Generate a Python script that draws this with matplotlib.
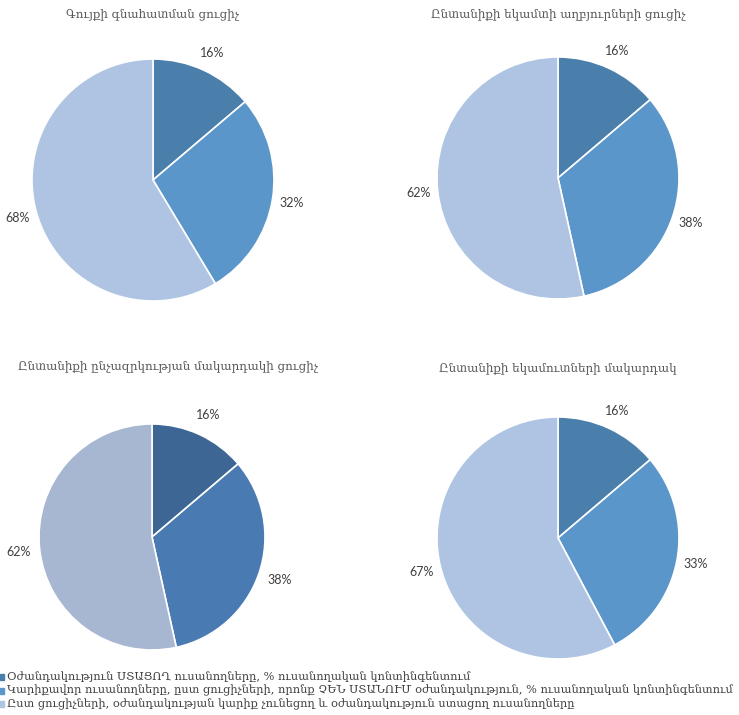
import matplotlib
matplotlib.use("Agg")
import matplotlib.pyplot as plt
from matplotlib.patches import Rectangle

titles = [
    "Գույքի գնահատման ցուցիչ",
    "Ընտանիքի եկամտի աղբյուրների ցուցիչ",
    "Ընտանիքի ընչազրկության մակարդակի ցուցիչ",
    "Ընտանիքի եկամուտների մակարդակ",
]
received = [16, 16, 16, 16]
needy_not_received = [32, 38, 38, 33]
no_need = [68, 62, 62, 67]

legend_labels = [
    "Օժանդակություն ՍՏԱՑՈՂ ուսանողները, % ուսանողական կոնտինգենտում",
    "Կարիքավոր ուսանողները, ըստ ցուցիչների, որոնք ՉԵՆ ՍՏԱՆՈՒՄ օժանդակություն, % ուսանողական կոնտինգենտում",
    "Ըստ ցուցիչների, օժանդակության կարիք չունեցող և օժանդակություն ստացող ուսանողները",
]

colors_std = ["#4A7EAB", "#5B96CB", "#AEC4E2"]
colors_alt = ["#3D6695", "#4A7AB2", "#A7B6D1"]
palettes = [colors_std, colors_std, colors_alt, colors_std]

W, H = 739, 715
fig = plt.figure(figsize=(W / 100, H / 100), dpi=100)

# pixel centers / radii
centers = [(153, 180, 121), (558, 178, 121), (152, 537, 113), (558, 538, 121)]
title_pos = [(153, 14), (558, 14), (168, 366), (558, 368)]
label_dist = [1.16, 1.16, 1.19, 1.16]

for i in range(4):
    cx, cy, r = centers[i]
    ax = fig.add_axes([(cx - r) / W, 1 - (cy + r) / H, 2 * r / W, 2 * r / H])
    vals = [received[i], needy_not_received[i], no_need[i]]
    labels = [f"{v}%" for v in vals]
    wedges, texts = ax.pie(
        vals, labels=labels, colors=palettes[i], startangle=90, counterclock=False,
        labeldistance=label_dist[i], wedgeprops=dict(edgecolor="white", linewidth=1.2),
        textprops=dict(fontsize=9, color="#404040", family=["Lato", "DejaVu Sans"]),
    )
    for t in texts:
        t.set_ha("center")
        t.set_va("center")
    ax.set_xlim(-1, 1)
    ax.set_ylim(-1, 1)
    ax.set_aspect("equal")
    tx, ty = title_pos[i]
    fig.text(tx / W, 1 - ty / H, titles[i], ha="center", va="center",
             fontsize=8.6, color="#595959", family=["DejaVu Serif"])

leg_colors = ["#4A7EAB", "#5B96CB", "#AEC4E2"]
for j, lab in enumerate(legend_labels):
    y = 677 + j * 13.5
    fig.patches.append(Rectangle((0 / W, 1 - (y + 3) / H), 4 / W, 6 / H,
                                 transform=fig.transFigure, color=leg_colors[j]))
    fig.text(7 / W, 1 - y / H, lab, ha="left", va="center", fontsize=8.2,
             color="#404040", family=["DejaVu Serif"])

fig.savefig("out.png", dpi=100)
